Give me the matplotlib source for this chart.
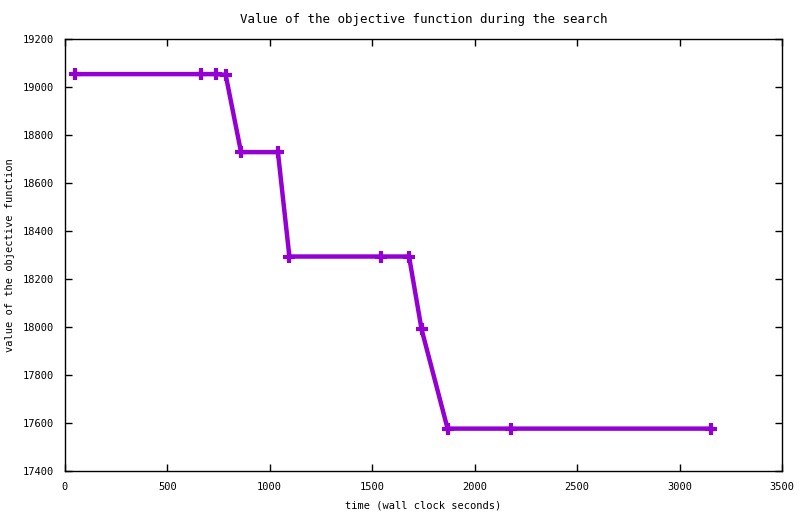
import matplotlib
matplotlib.use("Agg")
import matplotlib.pyplot as plt

# time (wall clock seconds) and objective value
times = [50, 667, 736, 785, 860, 1040, 1096, 1543, 1680, 1741, 1868, 2177, 3153]
values = [19055, 19055, 19055, 19052, 18730, 18730, 18295, 18295, 18295, 17992, 17578, 17578, 17578]

plt.rcParams['font.family'] = ['DejaVu Sans Mono']
plt.rcParams['font.size'] = 7.5

fig = plt.figure(figsize=(8, 5.14), dpi=100)
ax = fig.add_axes([0.081, 0.083, 0.8965, 0.8405])

ax.plot(times, values, color='#9400D3', linewidth=3.2, marker='+',
        markersize=9, markeredgewidth=3)

ax.set_xlim(0, 3500)
ax.set_ylim(17400, 19200)
ax.set_xticks(range(0, 3501, 500))
ax.set_yticks(range(17400, 19201, 200))
ax.tick_params(direction='in', top=True, right=True, length=5, width=1, pad=8)
for s in ax.spines.values():
    s.set_linewidth(1)

ax.set_title("Value of the objective function during the search", pad=12)
ax.set_xlabel("time (wall clock seconds)", labelpad=6)
ax.set_ylabel("value of the objective function", labelpad=5)

fig.savefig("out.png", dpi=100)
